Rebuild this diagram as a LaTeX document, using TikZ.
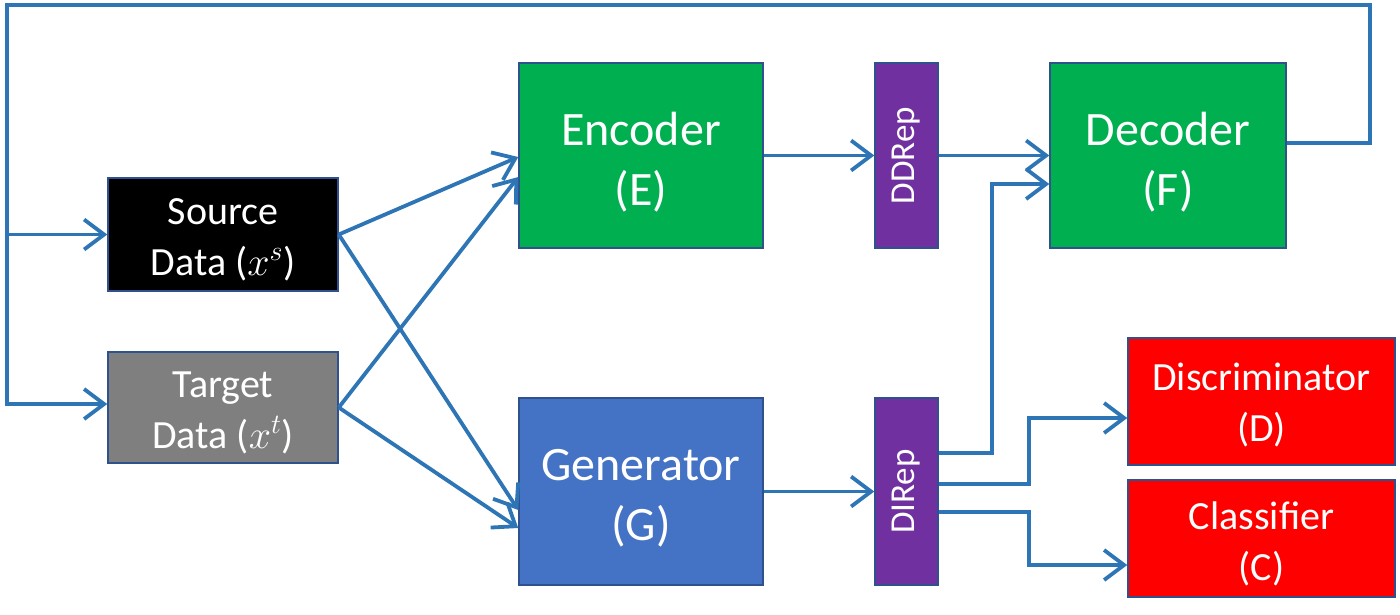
\RequirePackage{fix-cm}
\documentclass[tikz,border=0pt]{standalone}
\usepackage{fontspec}
\setmainfont{Carlito}
\usetikzlibrary{arrows.meta}
\definecolor{lnblue}{RGB}{46,117,182}
\definecolor{bdblue}{RGB}{47,82,143}
\definecolor{encgreen}{RGB}{0,176,80}
\definecolor{genblue}{RGB}{68,114,196}
\definecolor{reppurple}{RGB}{112,48,160}
\definecolor{datagray}{RGB}{127,127,127}
\definecolor{boxred}{RGB}{255,0,0}
\tikzset{
  box/.style={draw=bdblue, line width=1.5pt, inner sep=0pt, rectangle},
  txt/.style={text=white, align=center, inner sep=0pt},
  bigtxt/.style={txt, font=\fontsize{48}{60}\selectfont},
  midtxt/.style={txt, font=\fontsize{40}{51}\selectfont},
  reptxt/.style={txt, font=\fontsize{35}{40}\selectfont, rotate=90},
  conn/.style={draw=lnblue, line width=3.8pt, -{Straight Barb[length=20pt,width=30pt,line width=3.8pt]}},
}
\begin{document}
\begin{tikzpicture}[x=1pt,y=-1pt]
\useasboundingbox (0,0) rectangle (1400,614);
% boxes
\node[box, fill=black, minimum width=230pt, minimum height=113pt] (src) at (223,234.5) {};
\node[midtxt] (srct) at ([yshift=-5pt]src.center) {Source\\Data ($x^{s}$)};
\node[box, fill=datagray, minimum width=230pt, minimum height=111pt] (tgt) at (223,407.5) {};
\node[midtxt] (tgtt) at ([yshift=-5pt]tgt.center) {Target\\Data ($x^{t}$)};
\node[box, fill=encgreen, minimum width=244pt, minimum height=185pt] (enc) at (641,155.5) {};
\node[bigtxt] (enct) at ([yshift=-7pt]enc.center) {Encoder\\(E)};
\node[box, fill=genblue, minimum width=244pt, minimum height=187pt] (gen) at (641,491.5) {};
\node[bigtxt] (gent) at ([yshift=-7pt]gen.center) {Generator\\(G)};
\node[box, fill=reppurple, minimum width=63pt, minimum height=185pt] (ddr) at (906.5,155.5) {};
\node[reptxt] (ddrl) at (ddr) {DDRep};
\node[box, fill=reppurple, minimum width=63pt, minimum height=187pt] (dir) at (906.5,491.5) {};
\node[reptxt] (dirl) at (dir) {DIRep};
\node[box, fill=encgreen, minimum width=236pt, minimum height=185pt] (dec) at (1168,155.5) {};
\node[bigtxt] (dect) at ([yshift=-7pt]dec.center) {Decoder\\(F)};
\node[box, fill=boxred, minimum width=267pt, minimum height=127pt] (dis) at (1261.5,401.5) {};
\node[midtxt] (dist) at ([yshift=-4pt]dis.center) {Discriminator\\(D)};
\node[box, fill=boxred, minimum width=267pt, minimum height=117pt] (cls) at (1261.5,538.5) {};
\node[midtxt] (clst) at ([yshift=-5pt]cls.center) {Classifier\\(C)};
% feedback coordinates
\coordinate (tr) at (1370,5);
\coordinate (tl) at (7,5);
\coordinate (bl) at (7,404);
% connectors
\draw[conn] (src.east) -- ([yshift=-1.5pt]enc.west);
\draw[conn] (tgt.east) -- ([yshift=-21.5pt]enc.west);
\draw[conn] (src.east) -- ([yshift=-18.5pt]gen.west);
\draw[conn] (tgt.east) -- ([yshift=-36.5pt]gen.west);
\draw[conn] (enc.east) -- (ddr.west);
\draw[conn] (gen.east) -- (dir.west);
\draw[conn] (ddr.east) -- (dec.west);
\draw[conn] ([yshift=38.5pt]dir.east) -| ([xshift=-57pt,yshift=-28.5pt]dec.west) -- ([yshift=-28.5pt]dec.west);
\draw[conn] ([yshift=7.5pt]dir.east) -| ([xshift=-98pt,yshift=-16.5pt]dis.west) -- ([yshift=-16.5pt]dis.west);
\draw[conn] ([yshift=-20.5pt]dir.east) -| ([xshift=-98pt,yshift=-26.5pt]cls.west) -- ([yshift=-26.5pt]cls.west);
\draw[conn] ([yshift=12.5pt]dec.east) -| (tr) -- (tl) -- (bl) -- ([yshift=3.5pt]tgt.west);
\draw[conn] (tl |- src.west) -- (src.west);
\end{tikzpicture}
\end{document}
